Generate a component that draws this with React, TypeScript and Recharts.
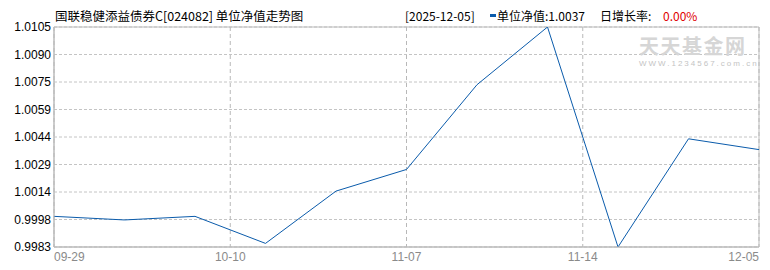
import React from "react";
import { LineChart, Line, XAxis, YAxis, CartesianGrid, ReferenceArea } from "recharts";

const navValues = [1.0, 0.9998, 1.0, 0.9985, 1.0014, 1.0026, 1.0073, 1.0105, 0.9983, 1.0043, 1.0037];
const xTickPositions = [0, 2.5, 5, 7.5, 10];
const xTickLabels = ["09-29", "10-10", "11-07", "11-14", "12-05"];
const yTickLabels = ["0.9983", "0.9998", "1.0014", "1.0029", "1.0044", "1.0059", "1.0075", "1.0090", "1.0105"];
const yMin = 0.9983;
const yMax = 1.0105;

const titleText = "国联稳健添益债券C[024082] 单位净值走势图";
const dateText = "[2025-12-05]";
const navLabel = "单位净值:";
const navText = "1.0037";
const growthLabel = "日增长率:";
const growthText = "0.00%";

const data = navValues.map((v, i) => ({ x: i, nav: v }));
const yTicks = yTickLabels.map((_, i) => yMin + ((yMax - yMin) * i) / (yTickLabels.length - 1));

const FONT = "'Noto Sans CJK SC', 'Liberation Sans', sans-serif";
const NUMFONT = "'Liberation Sans', 'DejaVu Sans', sans-serif";

const XTick = (props: any) => {
  const { x, y, payload, index } = props;
  const n = xTickPositions.length;
  const anchor = index === 0 ? "start" : index === n - 1 ? "end" : "middle";
  const i = xTickPositions.indexOf(payload.value);
  return (
    <text x={x} y={y} dy="0.71em" textAnchor={anchor} fill="#8a8a8a" fontSize={12} fontFamily={NUMFONT}>
      {xTickLabels[i >= 0 ? i : index]}
    </text>
  );
};

const yFormatter = (v: number) => {
  let best = 0;
  let bd = Infinity;
  yTicks.forEach((t, i) => {
    const d = Math.abs(t - v);
    if (d < bd) {
      bd = d;
      best = i;
    }
  });
  return yTickLabels[best];
};

export default function App() {
  return (
    <div style={{ position: "absolute", left: 0, top: 0, width: 770, height: 270, background: "#fff" }}>
      <LineChart width={770} height={270} data={data} margin={{ top: 27, right: 11, bottom: 0, left: 0 }}>
        <CartesianGrid horizontal={true} vertical={false} stroke="#c4c4c4" strokeDasharray="3 2" />
        <CartesianGrid horizontal={false} vertical={true} stroke="#b8b8b8" strokeDasharray="4 3" />
        <XAxis
          type="number"
          dataKey="x"
          domain={[0, 10]}
          ticks={xTickPositions}
          interval={0}
          tick={<XTick />}
          tickLine={false}
          tickSize={0}
          tickMargin={5}
          axisLine={{ stroke: "#bbbbbb" }}
          height={23}
          allowDataOverflow
        />
        <YAxis
          type="number"
          domain={[yMin, yMax]}
          ticks={yTicks}
          interval={0}
          tickFormatter={yFormatter}
          tick={{ fill: "#000", fontSize: 12, fontFamily: NUMFONT }}
          tickLine={false}
          tickSize={0}
          tickMargin={3}
          axisLine={{ stroke: "#bbbbbb" }}
          width={54}
          allowDataOverflow
        />
        <ReferenceArea x1={0} x2={10} y1={yMin} y2={yMax} fill="none" stroke="#bbbbbb" strokeWidth={1} ifOverflow="visible" />
        <Line type="linear" dataKey="nav" stroke="#0a5bab" strokeWidth={1} dot={false} isAnimationActive={false} />
      </LineChart>

      <div style={{ position: "absolute", left: 639, top: 36, width: 110, fontFamily: FONT, fontSize: 20, fontWeight: 700, color: "#d6d6d6", lineHeight: "20px", letterSpacing: 1.5, whiteSpace: "nowrap" }}>
        天天基金网
      </div>
      <div style={{ position: "absolute", left: 639, top: 59, fontFamily: NUMFONT, fontSize: 8, color: "#c4c4c4", lineHeight: "9px", letterSpacing: 2, whiteSpace: "nowrap" }}>
        WWW.1234567.com.cn
      </div>

      <div style={{ position: "absolute", left: 55, top: 7, fontFamily: FONT, fontSize: 12.5, color: "#000", lineHeight: "17px", whiteSpace: "nowrap" }}>
        {titleText}
      </div>
      <div style={{ position: "absolute", left: 405, top: 8, fontFamily: FONT, fontSize: 12, color: "#000", lineHeight: "16px", whiteSpace: "nowrap" }}>
        {dateText}
      </div>
      <div style={{ position: "absolute", left: 490, top: 14, width: 6, height: 3, background: "#0a5bab" }} />
      <div style={{ position: "absolute", left: 497, top: 8, fontFamily: FONT, fontSize: 12, color: "#000", lineHeight: "16px", whiteSpace: "nowrap" }}>
        {navLabel}
        {navText}
      </div>
      <div style={{ position: "absolute", left: 600, top: 8, fontFamily: FONT, fontSize: 12, color: "#000", lineHeight: "16px", whiteSpace: "nowrap" }}>
        {growthLabel}
      </div>
      <div style={{ position: "absolute", left: 663, top: 8, fontFamily: FONT, fontSize: 12, color: "#e00000", lineHeight: "16px", whiteSpace: "nowrap" }}>
        {growthText}
      </div>
    </div>
  );
}
